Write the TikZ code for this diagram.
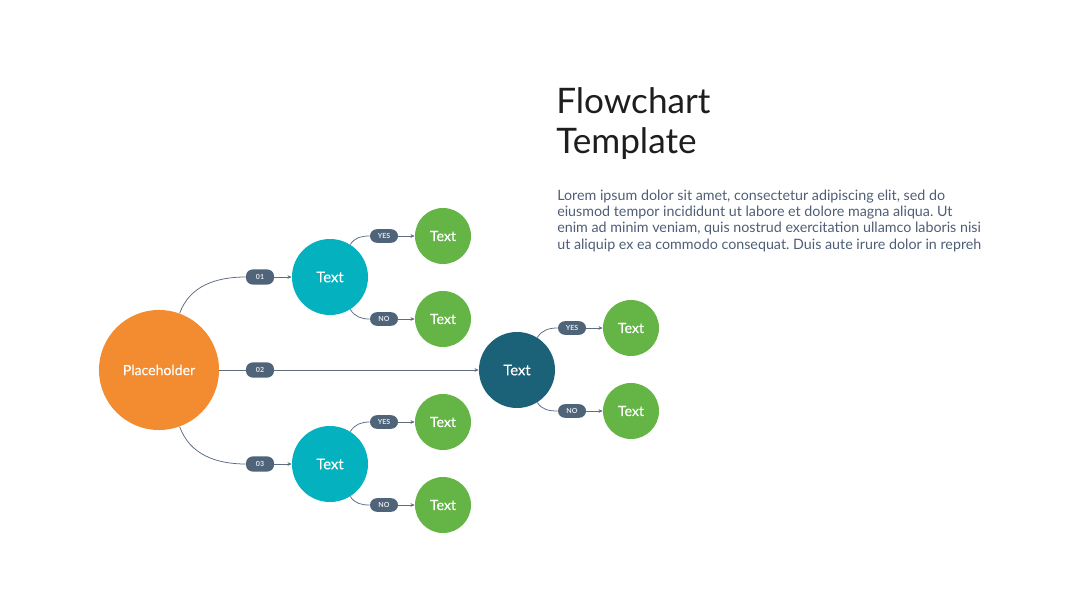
\documentclass[tikz,border=0pt]{standalone}
\usepackage{fontspec}
\setmainfont{Lato}
\newfontfamily\circlefont[FakeBold=0.35]{Lato}
\usetikzlibrary{arrows.meta,positioning}
\frenchspacing

\definecolor{phorange}{HTML}{F38B30}
\definecolor{stepteal}{HTML}{04B1BE}
\definecolor{stepdark}{HTML}{1B6178}
\definecolor{leafgreen}{HTML}{64B446}
\definecolor{pillgray}{HTML}{4F6479}
\definecolor{linegray}{HTML}{5E6E80}
\definecolor{titleink}{HTML}{1E1E1E}
\definecolor{bodyink}{HTML}{4E5E76}

\begin{document}
\begin{tikzpicture}[
    x=0.025cm, y=0.025cm,
    root/.style={
        circle, fill=phorange, text=white,
        minimum size=3cm, inner sep=0pt, font=\circlefont\fontsize{10}{12}\selectfont
    },
    branch/.style={
        circle, fill=stepteal, text=white,
        minimum size=1.9cm, inner sep=0pt, font=\circlefont\fontsize{10.5}{12}\selectfont
    },
    leaf/.style={
        circle, fill=leafgreen, text=white,
        minimum size=1.4cm, inner sep=0pt, font=\circlefont\fontsize{10}{12}\selectfont
    },
    pill/.style={
        rounded corners=0.17cm, fill=pillgray, text=white!85!pillgray,
        minimum width=0.7cm, minimum height=0.38cm, inner sep=0pt,
        font=\fontsize{5}{6}\selectfont\bfseries
    },
    link/.style={linegray, line width=0.55pt},
    arrowlink/.style={link, -{Stealth[length=3pt,width=2.6pt]}}
]

\useasboundingbox (0,0) rectangle (1080,608);

% Title and text
\node[anchor=base west, align=left, text=titleink, inner sep=0pt,
      font=\fontsize{25}{28.5}\selectfont] (title) at (556,454)
      {Flowchart\\Template};
\node[anchor=base west, align=left, text=bodyink, inner sep=0pt,
      font=\fontsize{10.15}{11.6}\selectfont] (body) at (557,359)
      {Lorem ipsum dolor sit amet, consectetur adipiscing elit, sed do\\
       eiusmod tempor incididunt ut labore et dolore magna aliqua. Ut\\
       enim ad minim veniam, quis nostrud exercitation ullamco laboris nisi\\
       ut aliquip ex ea commodo consequat. Duis aute irure dolor in repreh};

% Circles
\node[root] (start) at (159,238) {Placeholder};

\node[branch] (upper) at (330,331) {Text};
\node[branch, fill=stepdark] (middle) at (517,238) {Text};
\node[branch] (lower) at (330,144) {Text};

\node[leaf] (upperyes) at (443,372) {Text};
\node[leaf] (upperno) at (443,289) {Text};
\node[leaf] (middleyes) at (631,280) {Text};
\node[leaf] (middleno) at (631,197) {Text};
\node[leaf] (loweryes) at (443,186) {Text};
\node[leaf] (lowerno) at (443,103) {Text};

% Labels on the connectors
\node[pill] (s1) at (260,331) {01};
\node[pill] (s2) at (260,238) {02};
\node[pill] (s3) at (260,144) {03};

\node[pill, minimum height=0.34cm] (uy) at (384,372) {YES};
\node[pill, minimum height=0.34cm] (un) at (384,289) {NO};
\node[pill, minimum height=0.34cm] (my) at (572,280) {YES};
\node[pill, minimum height=0.34cm] (mn) at (572,197) {NO};
\node[pill, minimum height=0.34cm] (ly) at (384,186) {YES};
\node[pill, minimum height=0.34cm] (ln) at (384,103) {NO};

% Connectors from the placeholder
\draw[link] (start.70) to[out=70, in=180] (s1.west);
\draw[arrowlink] (s1.east) -- (upper.west);
\draw[link] (start.east) -- (s2.west);
\draw[arrowlink] (s2.east) -- (middle.west);
\draw[link] (start.-70) to[out=-70, in=180] (s3.west);
\draw[arrowlink] (s3.east) -- (lower.west);

% Yes / no connectors
\draw[link] (upper.58) to[out=58, in=180] (uy.west);
\draw[arrowlink] (uy.east) -- (upperyes.west);
\draw[link] (upper.-58) to[out=-58, in=180] (un.west);
\draw[arrowlink] (un.east) -- (upperno.west);

\draw[link] (middle.58) to[out=58, in=180] (my.west);
\draw[arrowlink] (my.east) -- (middleyes.west);
\draw[link] (middle.-58) to[out=-58, in=180] (mn.west);
\draw[arrowlink] (mn.east) -- (middleno.west);

\draw[link] (lower.58) to[out=58, in=180] (ly.west);
\draw[arrowlink] (ly.east) -- (loweryes.west);
\draw[link] (lower.-58) to[out=-58, in=180] (ln.west);
\draw[arrowlink] (ln.east) -- (lowerno.west);

\end{tikzpicture}
\end{document}
